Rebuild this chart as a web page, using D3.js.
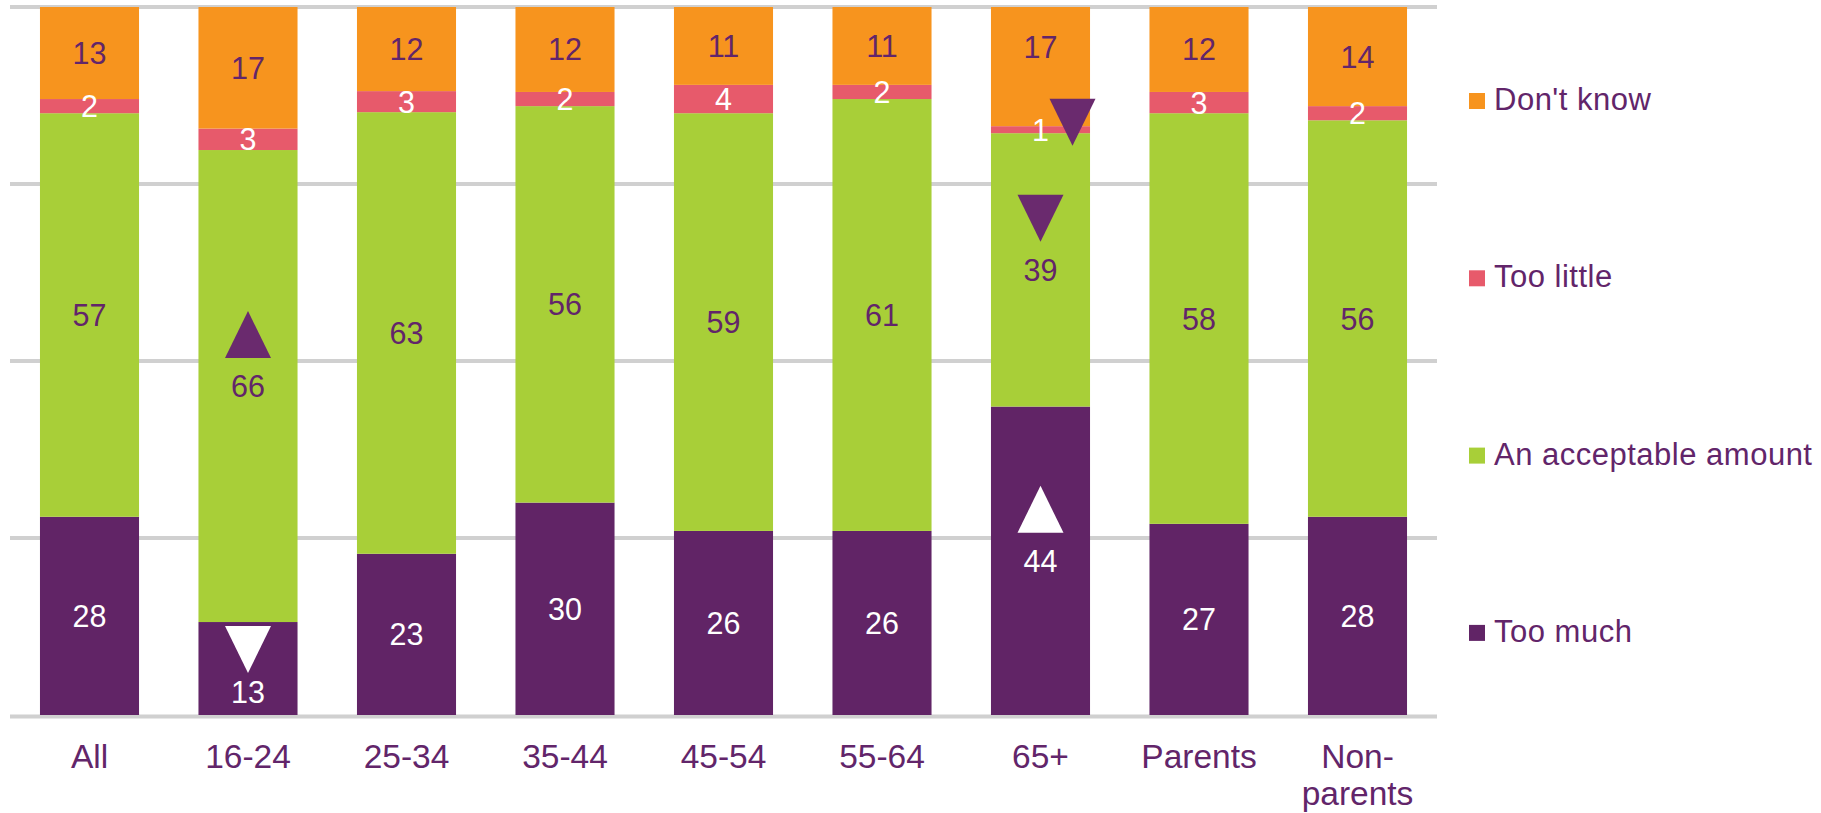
<!DOCTYPE html>
<html>
<head>
<meta charset="utf-8">
<script src="https://cdn.jsdelivr.net/npm/d3@7"></script>
<style>
  html, body { margin: 0; padding: 0; background: #ffffff; }
  svg { display: block; }
  text { font-family: "Liberation Sans", Arial, Helvetica, sans-serif; }
</style>
</head>
<body>
<svg id="chart" width="1821" height="813"></svg>
<script>
// ---------- data ----------
const categories = ["All", "16-24", "25-34", "35-44", "45-54", "55-64", "65+", "Parents", "Non-parents"];
const seriesNames = ["Too much", "An acceptable amount", "Too little", "Don't know"];
const tooMuch      = [28, 13, 23, 30, 26, 26, 44, 27, 28];
const acceptable   = [57, 66, 63, 56, 59, 61, 39, 58, 56];
const tooLittle    = [2, 3, 3, 2, 4, 2, 1, 3, 2];
const dontKnow     = [13, 17, 12, 12, 11, 11, 17, 12, 14];
const gridTicks    = [0, 0.25, 0.5, 0.75, 1];
// significance markers (arrow direction per category / series)
const sigCategory  = ["16-24", "16-24", "65+", "65+", "65+"];
const sigSeries    = ["Too much", "An acceptable amount", "Too much", "An acceptable amount", "Too little"];
const sigDirection = ["down", "up", "up", "down", "down"];

// ---------- styles ----------
const colors = {
  "Too much": "#612466",
  "An acceptable amount": "#a8cf38",
  "Too little": "#e75a6b",
  "Don't know": "#f7941e"
};
const labelColors = {
  "Too much": "#ffffff",
  "An acceptable amount": "#62256a",
  "Too little": "#ffffff",
  "Don't know": "#62256a"
};
const textPurple = "#62256a";
const triPurple = "#6a2a6e";

const seriesValues = [tooMuch, acceptable, tooLittle, dontKnow];
const table = categories.map((c, i) => {
  const row = { category: c };
  seriesNames.forEach((s, j) => row[s] = seriesValues[j][i]);
  return row;
});

const svg = d3.select("#chart");

const x = d3.scaleBand()
  .domain(categories)
  .range([10.25, 1436.75])
  .paddingInner(0.375)
  .paddingOuter(0.1875);

const y = d3.scaleLinear().domain([0, 1]).range([715, 7]);

const stack = d3.stack().keys(seriesNames).offset(d3.stackOffsetExpand);
const stacked = stack(table);

// gridlines
svg.append("g").selectAll("line")
  .data(gridTicks)
  .join("line")
  .attr("x1", 10).attr("x2", 1437)
  .attr("y1", d => d === 0 ? y(d) + 1.5 : y(d))
  .attr("y2", d => d === 0 ? y(d) + 1.5 : y(d))
  .attr("stroke", "#d0d0d0")
  .attr("stroke-width", 4);

// bars
const layers = svg.append("g").selectAll("g.layer")
  .data(stacked)
  .join("g")
  .attr("class", "layer")
  .attr("fill", d => colors[d.key]);

layers.selectAll("rect")
  .data(d => d.map(v => ({ key: d.key, v })))
  .join("rect")
  .attr("x", d => x(d.v.data.category))
  .attr("width", x.bandwidth())
  .attr("y", d => y(d.v[1]))
  .attr("height", d => y(d.v[0]) - y(d.v[1]));

// significance lookup & label placement
function sigFor(cat, key) {
  for (let i = 0; i < sigCategory.length; i++) {
    if (sigCategory[i] === cat && sigSeries[i] === key) return sigDirection[i];
  }
  return null;
}

const labelItems = [];
const triItems = [];
stacked.forEach(layer => {
  layer.forEach(v => {
    const cat = v.data.category;
    const top = y(v[1]), bottom = y(v[0]);
    const h = bottom - top;
    const cx = x(cat) + x.bandwidth() / 2;
    let cy = (top + bottom) / 2;
    const dir = sigFor(cat, layer.key);
    if (dir) {
      let tx = cx, tTop, color, side = false;
      if (h < 30) {
        side = true;
        tx = cx + 32;
        tTop = cy - 31;
        color = triPurple;
      } else {
        color = labelColors[layer.key] === "#ffffff" ? "#ffffff" : triPurple;
        if (h < 130) {
          tTop = top + 4;
          cy = tTop + 47 + 19;
        } else {
          tTop = cy - 75;
        }
      }
      triItems.push({ x: tx, top: tTop, dir, color, cat, key: layer.key, side });
    }
    labelItems.push({ x: cx, y: cy, top, bottom, cat, key: layer.key, text: v.data[layer.key], color: labelColors[layer.key] });
  });
});

// a side triangle poking up into the segment above pushes that segment's label up
labelItems.forEach(l => {
  triItems.forEach(t => {
    if (t.side && t.cat === l.cat && t.key !== l.key && t.top > l.top && t.top < l.bottom) {
      l.y = t.top - 52;
    }
  });
});

// labels
svg.append("g").selectAll("text")
  .data(labelItems)
  .join("text")
  .attr("x", d => d.x)
  .attr("y", d => d.y)
  .attr("dy", "0.36em")
  .attr("text-anchor", "middle")
  .attr("font-size", 30.5)
  .attr("fill", d => d.color)
  .text(d => d.text);

// triangles
const tw = 46, th = 47;
svg.append("g").selectAll("path")
  .data(triItems)
  .join("path")
  .attr("d", d => {
    if (d.dir === "up") {
      return `M${d.x - tw / 2},${d.top + th}L${d.x + tw / 2},${d.top + th}L${d.x},${d.top}Z`;
    }
    return `M${d.x - tw / 2},${d.top}L${d.x + tw / 2},${d.top}L${d.x},${d.top + th}Z`;
  })
  .attr("fill", d => d.color);

// x axis
const xAxis = svg.append("g")
  .attr("transform", `translate(0,${y(0) + 1})`)
  .call(d3.axisBottom(x).tickSize(0).tickPadding(28));
xAxis.select(".domain").remove();
xAxis.selectAll(".tick text").each(function (d) {
  const t = d3.select(this);
  t.text(null)
    .attr("font-size", 33.5)
    .attr("fill", textPurple)
    .attr("font-family", "Liberation Sans, Arial, sans-serif")
    .attr("dy", null);
  const parts = d.includes("-") && isNaN(+d[0]) ? [d.slice(0, d.indexOf("-") + 1), d.slice(d.indexOf("-") + 1)] : [d];
  parts.forEach((p, i) => {
    t.append("tspan").attr("x", 0).attr("dy", i === 0 ? "0.71em" : "1.12em").text(p);
  });
});

// legend
const legendOrder = seriesNames.slice().reverse();
const legend = svg.append("g").selectAll("g")
  .data(legendOrder)
  .join("g")
  .attr("transform", (d, i) => `translate(1469,${110 + i * 177.3})`);
legend.append("rect")
  .attr("x", 0).attr("y", -17)
  .attr("width", 16).attr("height", 16)
  .attr("fill", d => colors[d]);
legend.append("text")
  .attr("x", 25).attr("y", 0)
  .attr("font-size", 31)
  .attr("letter-spacing", 0.5)
  .attr("fill", textPurple)
  .text(d => d);
</script>
</body>
</html>
